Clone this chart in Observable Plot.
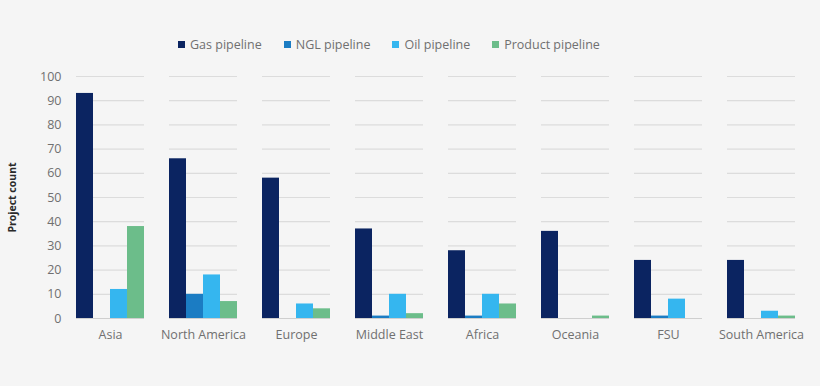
<!DOCTYPE html>
<html>
<head>
<meta charset="utf-8">
<script src="https://cdn.jsdelivr.net/npm/d3@7"></script>
<script src="https://cdn.jsdelivr.net/npm/@observablehq/plot@0.6"></script>
<style>
  html, body { margin: 0; padding: 0; background: #f5f5f5; }
  body { width: 820px; height: 386px; overflow: hidden; font-family: "Open Sans", "Liberation Sans", sans-serif; }
  #legend { height: 60px; display: flex; align-items: flex-end; padding-left: 178px; box-sizing: border-box; padding-bottom: 7px; }
  .item { display: flex; align-items: center; margin-right: 22px; font-size: 12.5px; color: #707070; }
  .sw { width: 7px; height: 7px; margin-right: 5px; display: inline-block; }
</style>
</head>
<body>
<div id="legend"></div>
<div id="chart"></div>
<script>
const regions = ["Asia", "North America", "Europe", "Middle East", "Africa", "Oceania", "FSU", "South America"];
const series = ["Gas pipeline", "NGL pipeline", "Oil pipeline", "Product pipeline"];
const colors = ["#0b2461", "#1b7cc3", "#35b6ef", "#6cbd8a"];
const gas = [93, 66, 58, 37, 28, 36, 24, 24];
const ngl = [0, 10, 0, 1, 1, 0, 1, 0];
const oil = [12, 18, 6, 10, 10, 0, 8, 3];
const product = [38, 7, 4, 2, 6, 1, 0, 1];
const yTicks = [0, 10, 20, 30, 40, 50, 60, 70, 80, 90, 100];

const values = [gas, ngl, oil, product];
const data = [];
regions.forEach((r, i) => series.forEach((s, j) => data.push({region: r, series: s, value: values[j][i]})));

const legend = document.getElementById("legend");
series.forEach((s, j) => {
  const it = document.createElement("div");
  it.className = "item";
  it.innerHTML = `<span class="sw" style="background:${colors[j]}"></span>${s}`;
  legend.appendChild(it);
});

const chart = Plot.plot({
  width: 820,
  height: 300,
  marginLeft: 60,
  marginRight: 10,
  marginTop: 16,
  marginBottom: 42,
  style: {background: "transparent", fontFamily: "'Open Sans', 'Liberation Sans', sans-serif", fontSize: "12.5px", color: "#707070"},
  fx: {domain: regions, paddingInner: 0.274, paddingOuter: 0.137, label: null, tickSize: 0, tickPadding: 12, axis: "bottom"},
  x: {domain: series, padding: 0, axis: null},
  y: {domain: [0, 100], ticks: yTicks, tickSize: 0, tickPadding: 15, label: null},
  color: {domain: series, range: colors},
  marks: [
    Plot.ruleY(yTicks.filter(d => d > 0), {stroke: "#dcdcdc", strokeWidth: 1.2}),
    Plot.barY(data, {fx: "region", x: "series", y: "value", fill: "series", insetLeft: 0, insetRight: 0}),
    Plot.ruleY([0], {stroke: "#cfcfcf", strokeWidth: 1.2}),
    Plot.text(["Project count"], {fx: ["Asia"], frameAnchor: "left", textAnchor: "middle", dx: -64, rotate: -90, fontWeight: "bold", fill: "#2a2a2a", fontSize: 10.5})
  ]
});
document.getElementById("chart").appendChild(chart);
</script>
</body>
</html>
